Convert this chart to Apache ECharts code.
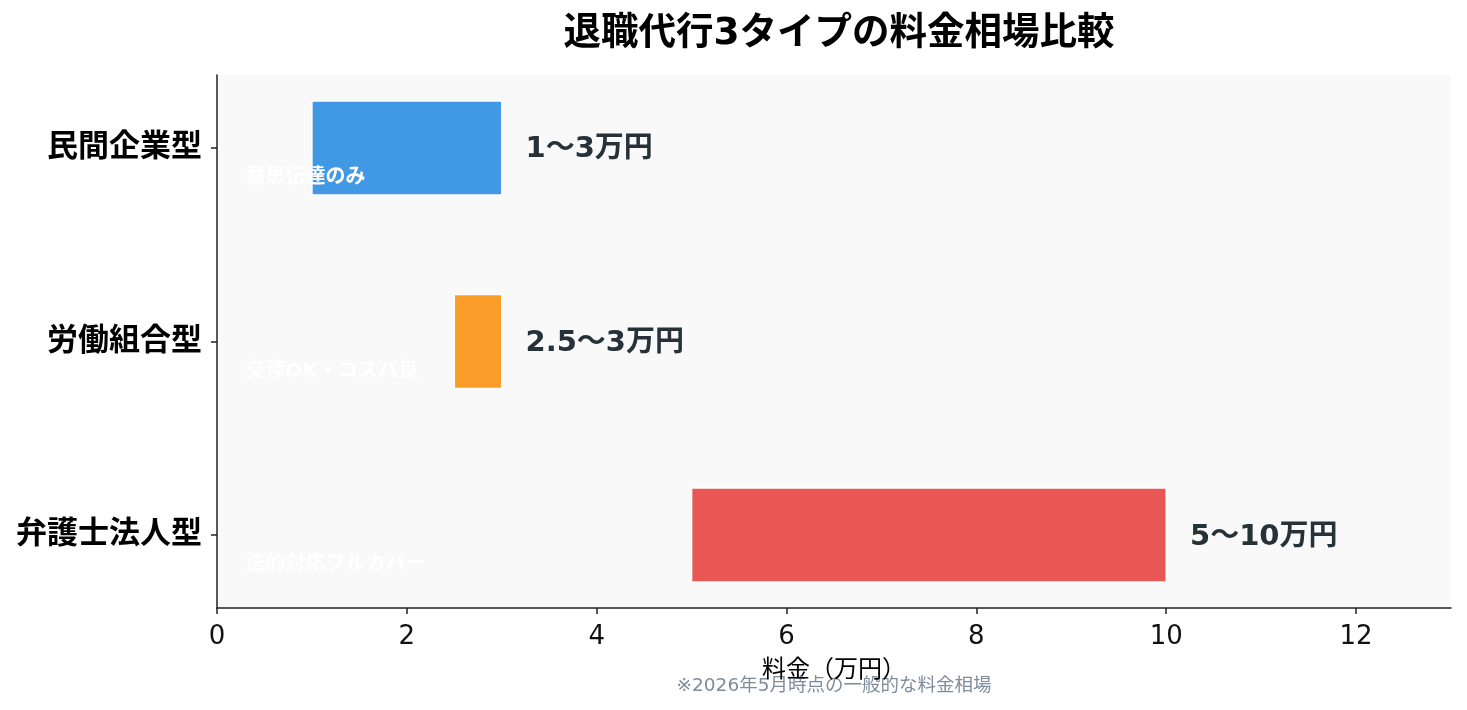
<!DOCTYPE html>
<html>
<head>
<meta charset="utf-8">
<script src="https://cdn.jsdelivr.net/npm/echarts@6/dist/echarts.min.js"></script>
<style>
  html, body { margin: 0; padding: 0; background: #fff; }
  #chart { width: 1467px; height: 710px; }
</style>
</head>
<body>
<div id="chart"></div>
<script>
// データ
const categories = ['民間企業型', '労働組合型', '弁護士法人型'];
const priceMin = [1, 2.5, 5];
const priceMax = [3, 3, 10];
const priceLabels = ['1〜3万円', '2.5〜3万円', '5〜10万円'];
const notes = ['意思伝達のみ', '交渉OK・コスパ良', '法的対応フルカバー'];
const barColors = ['#4199e5', '#fa9d29', '#e85754'];
const xTicks = [0, 2, 4, 6, 8, 10, 12];

// 数字は DejaVu、和文は Noto CJK にフォールバック
const font = '"DejaVu Sans", "Noto Sans CJK JP", sans-serif';
const cjkFont = '"Noto Sans CJK JP", sans-serif';
const myChart = echarts.init(document.getElementById('chart'));

const rows = categories.map((c, i) => [i, priceMin[i], priceMax[i]]);

const option = {
  backgroundColor: '#ffffff',
  textStyle: { fontFamily: font },
  title: {
    text: '退職代行3タイプの料金相場比較',
    left: 834,
    textAlign: 'center',
    top: 11,
    textStyle: { fontSize: 37.5, fontWeight: 'bold', color: '#000', fontFamily: font }
  },
  graphic: [{
    type: 'text',
    x: 834,
    y: 686,
    style: {
      text: '※2026年5月時点の一般的な料金相場',
      fill: '#7f8c9b',
      font: '18.5px ' + font,
      textAlign: 'center',
      textVerticalAlign: 'middle'
    }
  }],
  grid: {
    left: 217, right: 16, top: 75, bottom: 102,
    show: true, backgroundColor: '#f9f9f9', borderWidth: 0
  },
  xAxis: {
    type: 'value',
    min: 0, max: 13, interval: 2,
    name: '料金（万円）',
    nameLocation: 'middle',
    nameGap: 48,
    nameTextStyle: { fontSize: 24, color: '#000', fontFamily: cjkFont },
    axisLine: { show: true, onZero: false, lineStyle: { color: '#222', width: 1.5 } },
    axisTick: { show: true, length: 6, lineStyle: { color: '#222', width: 1.5 }, customValues: xTicks },
    axisLabel: { fontSize: 26, color: '#111', margin: 16, customValues: xTicks },
    splitLine: { show: false }
  },
  yAxis: {
    type: 'value',
    inverse: true,
    min: -0.377, max: 2.377,
    axisLine: { show: true, onZero: false, lineStyle: { color: '#222', width: 1.5 } },
    axisTick: { show: true, length: 6, lineStyle: { color: '#222', width: 1.5 }, customValues: [0, 1, 2] },
    axisLabel: {
      fontSize: 31, fontWeight: 'bold', color: '#000', margin: 15,
      customValues: [0, 1, 2],
      formatter: v => categories[Math.round(v)]
    },
    splitLine: { show: false }
  },
  series: [{
    type: 'custom',
    data: rows,
    encode: { x: [1, 2], y: 0 },
    renderItem: function (params, api) {
      const i = api.value(0);
      const lo = api.value(1);
      const hi = api.value(2);
      const p0 = api.coord([lo, i - 0.243]);
      const p1 = api.coord([hi, i + 0.243]);
      const labelPos = api.coord([hi + 0.25, i]);
      const notePos = api.coord([0.3, i + 0.15]);
      return {
        type: 'group',
        children: [
          {
            type: 'rect',
            shape: { x: p0[0], y: p0[1], width: p1[0] - p0[0], height: p1[1] - p0[1] },
            style: { fill: barColors[i], stroke: '#ffffff', lineWidth: 1.5 }
          },
          {
            type: 'text',
            x: labelPos[0], y: labelPos[1] + 2,
            style: {
              text: priceLabels[i], fill: '#263238',
              font: 'bold 29px ' + font,
              textAlign: 'left', textVerticalAlign: 'middle'
            }
          },
          {
            type: 'text',
            x: notePos[0], y: notePos[1] + 1,
            style: {
              text: notes[i], fill: '#ffffff',
              font: 'bold 20px ' + font,
              textAlign: 'left', textVerticalAlign: 'middle'
            }
          }
        ]
      };
    }
  }]
};

myChart.setOption(option);
window.addEventListener('resize', function () {
  myChart.resize();
});
</script>
</body>
</html>
